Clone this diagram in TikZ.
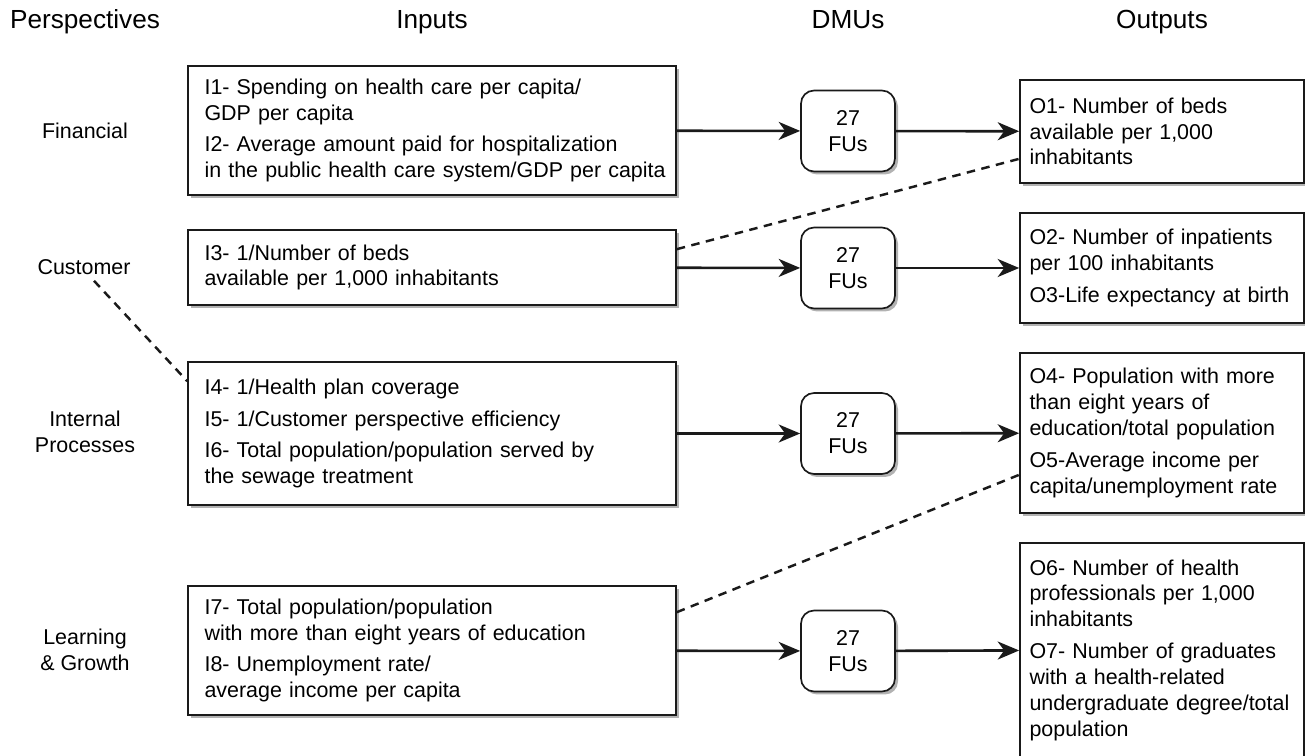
\documentclass[tikz,border=0pt]{standalone}
\usepackage{fontspec}
\setmainfont{Liberation Sans}
\usetikzlibrary{arrows.meta,positioning,shadows,calc}
\definecolor{edge}{HTML}{1A1A1A}
\newcommand{\bodyfont}{\fontsize{12.2}{14.7}\selectfont}
\newcommand{\headfont}{\fontsize{14.9}{17}\selectfont}
\tikzset{
  base/.style={draw=edge,line width=0.95pt,fill=white,drop shadow={shadow xshift=0.6mm,shadow yshift=-0.6mm,opacity=0.3,fill=black}},
  inbox/.style={base,align=left,text width=91mm,inner xsep=3.3mm,inner ysep=0pt,font=\bodyfont},
  outbox/.style={base,align=left,text width=53mm,inner xsep=1.9mm,inner ysep=0pt,font=\bodyfont},
  dmu/.style={base,rounded corners=2.6mm,minimum width=18.8mm,minimum height=16.2mm,align=center,font=\bodyfont},
  persp/.style={align=center,font=\bodyfont},
  head/.style={font=\headfont,anchor=base},
  ar/.style={-{Stealth[length=4.3mm,width=3.6mm,inset=1.3mm]},line width=1.5pt,draw=edge},
  link/.style={line width=1.4pt,draw=edge,dash pattern=on 1.7mm off 1.3mm},
}

\begin{document}
\begin{tikzpicture}[x=0.02cm,y=-0.02cm]
\useasboundingbox (0,0) rectangle (1305,756);

\node[head] (hpersp) at (85,29) {Perspectives};
\node[head] (hin) at (432,29) {Inputs};
\node[head] (hdmu) at (848,29) {DMUs};
\node[head] (hout) at (1162,29) {Outputs};

\node[persp] (fin) at (85,131) {Financial};
\node[persp] (cust) at (84,267) {Customer};
\node[persp] (intp) at (85,432) {Internal\\Processes};
\node[persp] (lrn) at (85,650) {Learning\\\& Growth};

\node[inbox,minimum height=25.8mm] (in1) at (432,130.5) {%
I1- Spending on health care per capita/\\
GDP per capita\\[3.4pt]
I2- Average amount paid for hospitalization\\
\mbox{in the public health care system/GDP per capita}};
\node[inbox,minimum height=15mm] (in2) at (432,267.5) {%
I3- 1/Number of beds\\
available per 1,000 inhabitants};
\node[inbox,minimum height=28.6mm] (in3) at (432,433.5) {%
I4- 1/Health plan coverage\\[3.4pt]
I5- 1/Customer perspective efficiency\\[3.4pt]
I6- Total population/population served by\\
the sewage treatment};
\node[inbox,minimum height=25.8mm] (in4) at (432,650.5) {%
I7- Total population/population\\
with more than eight years of education\\[3.4pt]
I8- Unemployment rate/\\
average income per capita};

\node[dmu] (dmu1) at (848,131) {27\\FUs};
\node[dmu] (dmu2) at (848,268) {27\\FUs};
\node[dmu] (dmu3) at (848,433.5) {27\\FUs};
\node[dmu] (dmu4) at (848,651) {27\\FUs};

\node[outbox,minimum height=20.6mm] (out1) at (1162,131.5) {%
O1- Number of beds\\
available per 1,000\\
inhabitants};
\node[outbox,minimum height=22mm] (out2) at (1162,268) {%
O2- Number of inpatients\\
per 100 inhabitants\\[3.4pt]
O3-Life expectancy at birth};
\node[outbox,minimum height=32mm] (out3) at (1162,433) {%
O4- Population with more\\
than eight years of\\
education/total population\\[3.4pt]
O5-Average income per\\
capita/unemployment rate};
\node[outbox,minimum height=42.8mm] (out4) at (1162,650) {%
O6- Number of health\\
professionals per 1,000\\
inhabitants\\[3.4pt]
O7- Number of graduates\\
with a health-related\\
\mbox{undergraduate degree/total}\\
population};

\draw[ar] (in1) -- (dmu1);
\draw[ar] (dmu1) -- (out1);
\draw[ar] (in2) -- (dmu2);
\draw[ar] (dmu2) -- (out2);
\draw[ar] (in3) -- (dmu3);
\draw[ar] (dmu3) -- (out3);
\draw[ar] (in4) -- (dmu4);
\draw[ar] (dmu4) -- (out4);

\draw[link] ([yshift=-4mm]in2.north east) -- ([yshift=5mm]out1.south west);
\draw[link] ([xshift=2mm]cust.south) -- ([yshift=-4mm]in3.north west);
\draw[link] ([yshift=-5.4mm]in4.north east) -- ([yshift=7.8mm]out3.south west);
\end{tikzpicture}
\end{document}
